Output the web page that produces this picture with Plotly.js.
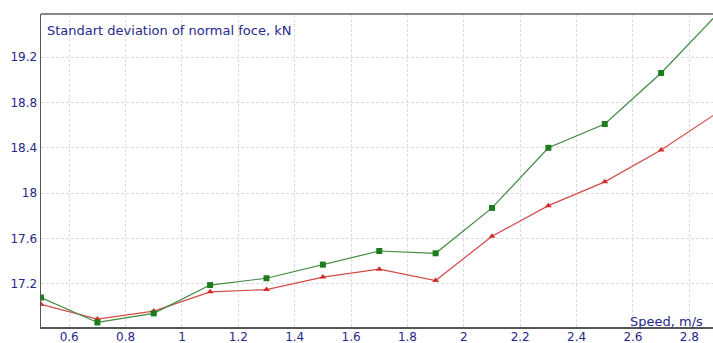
<!DOCTYPE html>
<html>
<head>
<meta charset="utf-8">
<script src="https://cdn.plot.ly/plotly-3.0.1.min.js"></script>
<style>html,body{margin:0;padding:0;background:#fff;}#chart{width:713px;height:343px;}</style>
</head>
<body>
<div id="chart"></div>
<script>
const speed = [0.5, 0.7, 0.9, 1.1, 1.3, 1.5, 1.7, 1.9, 2.1, 2.3, 2.5, 2.7, 2.9];
const seriesGreen = [17.08, 16.86, 16.94, 17.19, 17.25, 17.37, 17.49, 17.47, 17.87, 18.40, 18.61, 19.06, 19.58];
const seriesRed = [17.02, 16.89, 16.96, 17.13, 17.15, 17.26, 17.33, 17.23, 17.62, 17.89, 18.10, 18.38, 18.71];
const xTicks = [0.6, 0.8, 1, 1.2, 1.4, 1.6, 1.8, 2, 2.2, 2.4, 2.6, 2.8];
const yTicks = [17.2, 17.6, 18, 18.4, 18.8, 19.2];

const textBlue = '#28288a';
const traces = [
  {x: speed, y: seriesRed, mode: 'lines+markers', cliponaxis: true,
   line: {color: '#d24a4a', width: 1.2},
   marker: {symbol: 'triangle-up', size: 6, color: '#d42a2a'}},
  {x: speed, y: seriesGreen, mode: 'lines+markers', cliponaxis: true,
   line: {color: '#3f8a3f', width: 1.2},
   marker: {symbol: 'square', size: 6, color: '#1d7d1d'}}
];
const layout = {
  width: 713, height: 343,
  margin: {l: 41, r: 0, t: 14, b: 16, pad: 0},
  paper_bgcolor: '#fff', plot_bgcolor: '#fff',
  showlegend: false,
  font: {family: 'DejaVu Sans, Verdana, sans-serif', color: textBlue, size: 11},
  xaxis: {range: [0.5, 2.884], tickvals: xTicks, ticktext: xTicks.map(String),
    showgrid: true, gridcolor: '#dcdcdc', griddash: '3px,2px', gridwidth: 1,
    zeroline: false, showline: true, linecolor: '#555', linewidth: 1.5,
    ticks: '', ticklabelstandoff: -2, tickfont: {size: 12, color: textBlue}, fixedrange: true},
  yaxis: {range: [16.82, 19.58], tickvals: yTicks, ticktext: yTicks.map(String),
    showgrid: true, gridcolor: '#dcdcdc', griddash: '3px,2px', gridwidth: 1,
    zeroline: false, showline: true, linecolor: '#555', linewidth: 1.5,
    ticks: '', tickfont: {size: 12, color: textBlue}, fixedrange: true},
  shapes: [
    {type: 'line', xref: 'paper', yref: 'paper', x0: 0, x1: 1, y0: 1, y1: 1,
     line: {color: '#888', width: 2}}
  ],
  annotations: [
    {xref: 'paper', yref: 'paper', x: 0, y: 1, xanchor: 'left', yanchor: 'top',
     xshift: 4, yshift: -7, showarrow: false,
     text: 'Standart deviation of normal foce, kN', font: {size: 13, color: textBlue}},
    {xref: 'paper', yref: 'paper', x: 0.8735, y: 0, xanchor: 'left', yanchor: 'bottom',
     xshift: 0, yshift: -4, showarrow: false,
     text: 'Speed, m/s', font: {size: 13, color: textBlue}}
  ]
};
Plotly.newPlot('chart', traces, layout, {displayModeBar: false, staticPlot: true});
</script>
</body>
</html>
